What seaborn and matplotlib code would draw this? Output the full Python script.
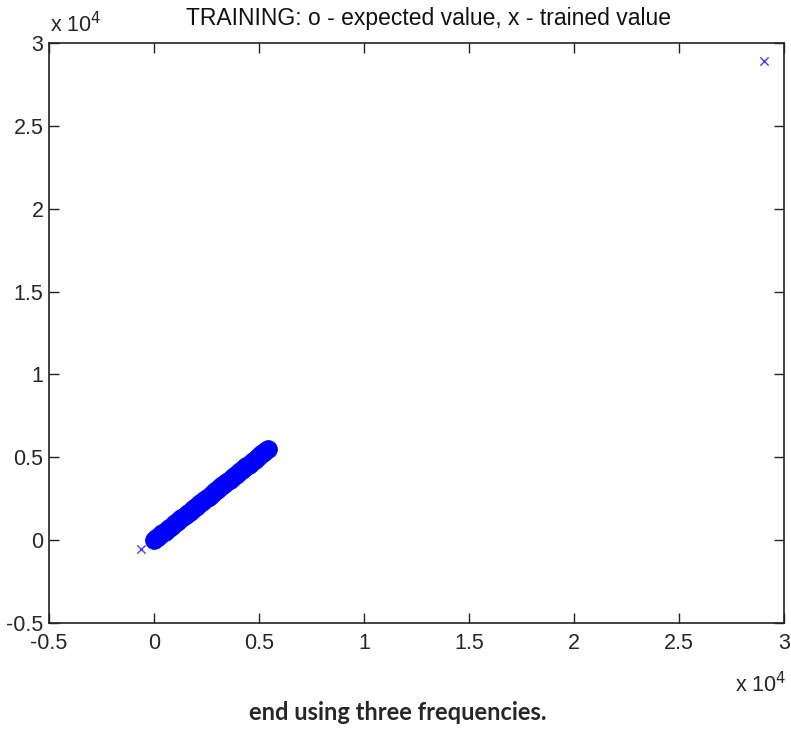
import matplotlib
matplotlib.use("Agg")
import matplotlib.pyplot as plt
import seaborn as sns
import pandas as pd

# Expected values (o) along the diagonal
expected_x = [0, 100, 200, 300, 400, 500, 600, 700, 800, 900, 1000, 1100, 1200, 1300,
              1400, 1500, 1600, 1700, 1800, 1900, 2000, 2100, 2200, 2300, 2400, 2500,
              2600, 2700, 2800, 2900, 3000, 3100, 3200, 3300, 3400, 3500, 3600, 3700,
              3800, 3900, 4000, 4100, 4200, 4300, 4400, 4500, 4600, 4700, 4800, 4900,
              5000, 5100, 5200, 5300, 5420]
expected_y = [0, 100, 200, 310, 410, 510, 610, 710, 810, 910, 1010, 1120, 1220, 1320,
              1420, 1520, 1620, 1720, 1820, 1930, 2030, 2130, 2230, 2330, 2430, 2530,
              2630, 2740, 2840, 2940, 3040, 3140, 3240, 3340, 3440, 3550, 3650, 3750,
              3850, 3950, 4050, 4150, 4250, 4360, 4460, 4560, 4660, 4760, 4860, 4960,
              5060, 5170, 5270, 5370, 5480]
# Trained values (x)
trained_x = [-620, 29050]
trained_y = [-550, 28900]

x_ticks = [-0.5, 0, 0.5, 1, 1.5, 2, 2.5, 3]
y_ticks = [-0.5, 0, 0.5, 1, 1.5, 2, 2.5, 3]
title = "TRAINING: o - expected value, x - trained value"
caption = "end using three frequencies."

sns.set_style("ticks")
plt.rcParams["font.family"] = ["Liberation Sans", "DejaVu Sans"]

fig = plt.figure(figsize=(7.91, 7.31), dpi=100)
ax = fig.add_axes([49 / 791, 108 / 731, 735 / 791, 580 / 731])

df_exp = pd.DataFrame({"x": expected_x, "y": expected_y})
df_tr = pd.DataFrame({"x": trained_x, "y": trained_y})

sns.scatterplot(data=df_exp, x="x", y="y", ax=ax, marker="o", s=160,
                color="#0000ff", edgecolor="#0000ff", linewidth=0.8, legend=False)
sns.scatterplot(data=df_tr, x="x", y="y", ax=ax, marker="x", s=36,
                color="#4040ff", linewidth=1.0, legend=False)

ax.set_xlim(-5000, 30000)
ax.set_ylim(-5000, 30000)
ax.set_xticks([t * 1e4 for t in x_ticks])
ax.set_yticks([t * 1e4 for t in y_ticks])
ax.set_xticklabels([f"{t:g}" for t in x_ticks])
ax.set_yticklabels([f"{t:g}" for t in y_ticks])
ax.set_xlabel("")
ax.set_ylabel("")
ax.tick_params(direction="in", length=7, width=1, labelsize=15.5, color="#222222",
               top=True, right=True, pad=4)
ax.tick_params(axis="x", pad=7)
for sp in ax.spines.values():
    sp.set_visible(True)
    sp.set_color("#222222")
    sp.set_linewidth(1.2)

fig.text(428 / 791, 1 - 18 / 731, title, fontsize=16.5, ha="center", va="center",
         color="#111111")

fig.text(50 / 791, 1 - 25 / 731, r"x 10$^4$", fontsize=15.5, ha="left", va="center")
fig.text(786 / 791, 1 - 685 / 731, r"x 10$^4$", fontsize=15.5, ha="right", va="center")

fig.text(398 / 791, 1 - 712 / 731, caption, fontsize=17, fontweight="bold",
         family=["Lato", "DejaVu Sans"], ha="center", va="center")

fig.savefig("out.png", dpi=100, facecolor="white")
